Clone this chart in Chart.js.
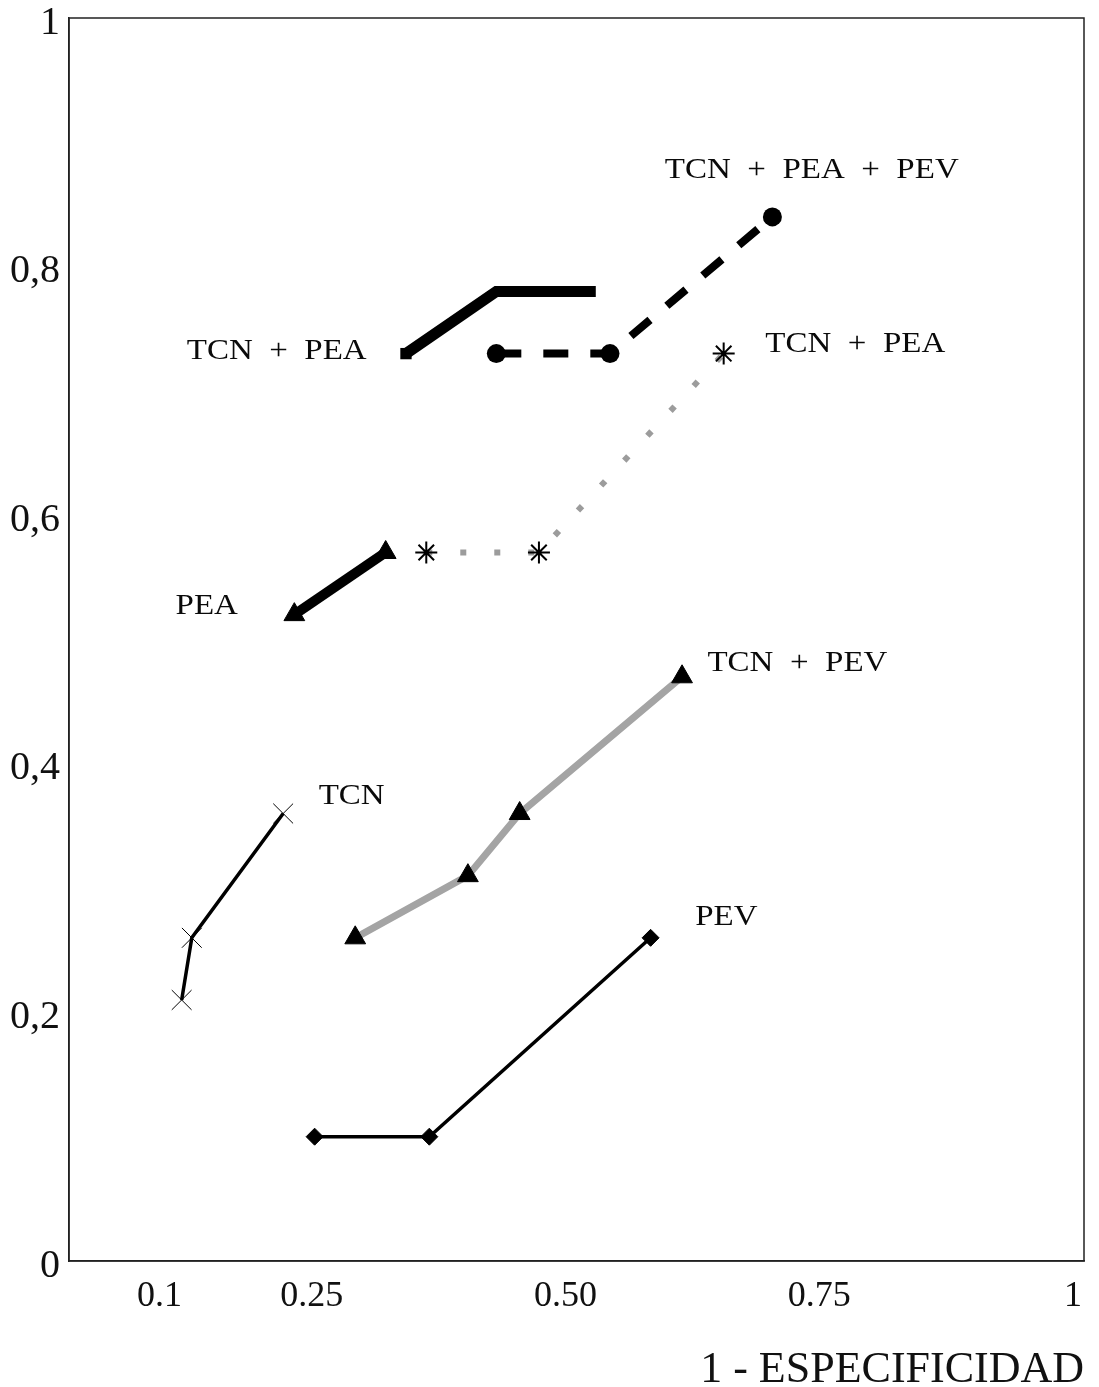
<!DOCTYPE html>
<html>
<head>
<meta charset="utf-8">
<script src="https://cdn.jsdelivr.net/npm/chart.js@4"></script>
<style>
  html, body { margin: 0; padding: 0; background: #fff; }
  #wrap { width: 1099px; height: 1387px; }
</style>
</head>
<body>
<div id="wrap"><canvas id="c" width="1099" height="1387"></canvas></div>
<script>
// ---- data ----
const tcnX = [0.111, 0.121, 0.211];
const tcnY = [0.21, 0.26, 0.36];

const pevX = [0.242, 0.355, 0.573];
const pevY = [0.10, 0.10, 0.26];

const tcnPevX = [0.282, 0.393, 0.444, 0.604];
const tcnPevY = [0.26, 0.31, 0.36, 0.47];

const peaX = [0.222, 0.312];
const peaY = [0.52, 0.57];

const tcnPeaDotX = [0.352, 0.463, 0.645];
const tcnPeaDotY = [0.57, 0.57, 0.73];

const tcnPeaSolidX = [0.332, 0.421, 0.519];
const tcnPeaSolidY = [0.73, 0.78, 0.78];

const allX = [0.421, 0.533, 0.693];
const allY = [0.73, 0.73, 0.84];

const xTickValues = [0.1, 0.25, 0.5, 0.75, 1];
const xTickLabels = ['0.1', '0.25', '0.50', '0.75', '1'];
const yTickValues = [0, 0.2, 0.4, 0.6, 0.8, 1];
const yTickLabels = ['0', '0,2', '0,4', '0,6', '0,8', '1'];

const xTitle = '1 - ESPECIFICIDAD';

const curveLabels = ['TCN  +  PEA  +  PEV', 'TCN  +  PEA', 'TCN  +  PEA', 'PEA', 'TCN  +  PEV', 'TCN', 'PEV'];
const curveLabelX = [0.587, 0.686, 0.116, 0.105, 0.629, 0.246, 0.617];
const curveLabelY = [0.878, 0.738, 0.732, 0.527, 0.481, 0.374, 0.277];

// ---- helpers ----
const pts = (xs, ys) => xs.map((x, i) => ({ x: x, y: ys[i] }));
const SERIF = '"Liberation Serif", "Times New Roman", serif';

const frame = {
  id: 'frame',
  afterDraw(chart) {
    const { ctx, chartArea: a } = chart;
    ctx.save();
    ctx.strokeStyle = '#222';
    ctx.lineWidth = 1.5;
    ctx.strokeRect(a.left, a.top, a.right - a.left, a.bottom - a.top);
    ctx.restore();
  }
};

const curveText = {
  id: 'curveText',
  afterDatasetsDraw(chart) {
    const { ctx, scales } = chart;
    ctx.save();
    ctx.fillStyle = '#0a0a0a';
    ctx.font = '30px ' + SERIF;
    ctx.textAlign = 'left';
    ctx.textBaseline = 'middle';
    curveLabels.forEach((t, i) => {
      const px = scales.x.getPixelForValue(curveLabelX[i]);
      const py = scales.y.getPixelForValue(curveLabelY[i]);
      ctx.save();
      ctx.translate(px, py);
      ctx.scale(1.1, 1);
      ctx.fillText(t, 0, 0);
      ctx.restore();
    });
    ctx.restore();
  }
};

new Chart(document.getElementById('c'), {
  type: 'scatter',
  data: {
    datasets: [
      {
        label: 'TCN', data: pts(tcnX, tcnY), showLine: true,
        borderColor: '#000', borderWidth: 3.5, pointStyle: 'crossRot',
        pointRadius: 14, pointBorderWidth: 1, pointBorderColor: '#000', pointBackgroundColor: '#000'
      },
      {
        label: 'PEV', data: pts(pevX, pevY), showLine: true,
        borderColor: '#000', borderWidth: 3.5, pointStyle: 'rectRot',
        pointRadius: 8.5, pointBorderWidth: 1, pointBorderColor: '#000', pointBackgroundColor: '#000'
      },
      {
        label: 'TCN + PEV', data: pts(tcnPevX, tcnPevY), showLine: true,
        borderColor: '#a4a4a4', borderWidth: 7, pointStyle: 'triangle',
        pointRadius: 12, pointBorderWidth: 1, pointBorderColor: '#000', pointBackgroundColor: '#000'
      },
      {
        label: 'PEA', data: pts(peaX, peaY), showLine: true,
        borderColor: '#000', borderWidth: 10, pointStyle: 'triangle',
        pointRadius: 12, pointBorderWidth: 1, pointBorderColor: '#000', pointBackgroundColor: '#000'
      },
      {
        label: 'TCN + PEA (asteriscos)', data: pts(tcnPeaDotX, tcnPeaDotY), showLine: true,
        borderColor: '#9c9c9c', borderWidth: 6, borderDash: [6, 28], borderCapStyle: 'butt',
        pointStyle: 'star', pointRadius: 11, pointBorderWidth: 2,
        pointBorderColor: '#000', pointBackgroundColor: '#000'
      },
      {
        label: 'TCN + PEA', data: pts(tcnPeaSolidX, tcnPeaSolidY), showLine: true,
        borderColor: '#000', borderWidth: 11, borderJoinStyle: 'miter', borderCapStyle: 'butt',
        pointStyle: 'rect', pointRadius: [8, 0, 0], pointBorderWidth: 0,
        pointBackgroundColor: '#000'
      },
      {
        label: 'TCN + PEA + PEV', data: pts(allX, allY), showLine: true,
        borderColor: '#000', borderWidth: 8, borderDash: [25, 22], borderCapStyle: 'butt',
        pointStyle: 'circle', pointRadius: 9.5, pointBorderWidth: 0,
        pointBackgroundColor: '#000'
      }
    ]
  },
  options: {
    responsive: false,
    animation: false,
    layout: { padding: { top: 18, right: 7, left: 0, bottom: 0 } },
    elements: { line: { tension: 0 } },
    plugins: { legend: { display: false }, tooltip: { enabled: false } },
    scales: {
      x: {
        type: 'linear', min: 0, max: 1,
        grid: { display: false, drawTicks: false },
        border: { display: true, color: '#222', width: 1.5 },
        afterBuildTicks: (s) => { s.ticks = xTickValues.map(v => ({ value: v })); },
        afterFit: (s) => { s.height = 126; s.paddingLeft = 0; s.paddingRight = 0; },
        ticks: {
          autoSkip: false, maxRotation: 0, padding: 14, labelOffset: -11,
          color: '#111', font: { family: SERIF, size: 36 },
          callback: (v) => { const i = xTickValues.indexOf(v); return i >= 0 ? xTickLabels[i] : ''; }
        },
        title: {
          display: true, text: xTitle, align: 'end', color: '#111',
          font: { family: SERIF, size: 44, lineHeight: 0.77 }, padding: 0
        }
      },
      y: {
        type: 'linear', min: 0, max: 1,
        grid: { display: false, drawTicks: false },
        border: { display: true, color: '#222', width: 1.5 },
        afterBuildTicks: (s) => { s.ticks = yTickValues.map(v => ({ value: v })); },
        afterFit: (s) => { s.width = 69; s.paddingTop = 0; s.paddingBottom = 0; },
        ticks: {
          autoSkip: false, padding: 9, labelOffset: 5,
          color: '#111', font: { family: SERIF, size: 40 },
          callback: (v) => { const i = yTickValues.indexOf(v); return i >= 0 ? yTickLabels[i] : ''; }
        }
      }
    }
  },
  plugins: [frame, curveText]
});
</script>
</body>
</html>
